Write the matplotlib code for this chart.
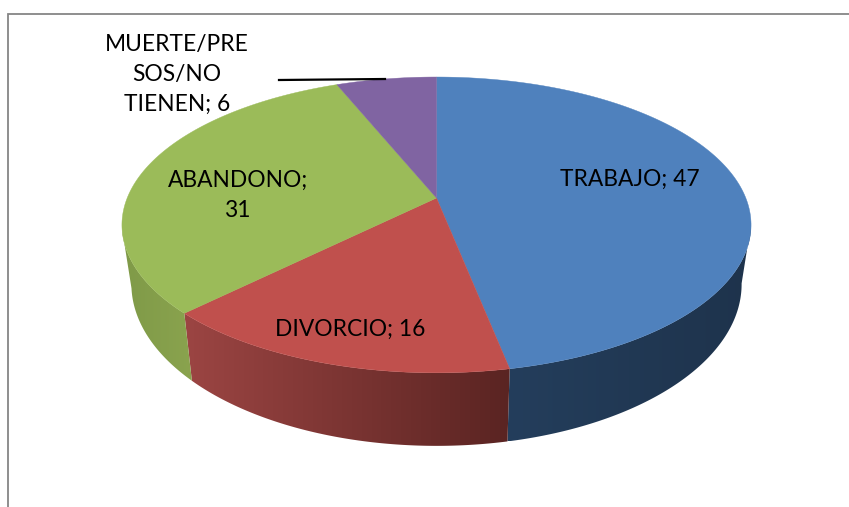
import numpy as np
import matplotlib
matplotlib.use("Agg")
import matplotlib.pyplot as plt
from matplotlib.patches import Polygon
from matplotlib.colors import to_rgb

categories = ["TRABAJO", "DIVORCIO", "ABANDONO", "MUERTE/PRE\nSOS/NO\nTIENEN"]
values = [47, 16, 31, 6]
top_colors = ["#4f81bd", "#c0504d", "#9bbb59", "#8064a2"]
# side colours, left end and right end of each wedge's wall
side_colors = [("#243e5c", "#1e334c"), ("#9c4543", "#5a2422"), ("#7f9a48", "#8aa34e"), ("#64507f", "#64507f")]
label_pos = [(630, 179), (350, 329), (238, 195), (177, 74.5)]

plt.rcParams["font.family"] = ["Lato", "DejaVu Sans"]

# pie projection, in pixels
CX, CY = 436.5, 198.0
PERSP = 0.182
RX, RY = 309.3, 143.0
# small angle correction for the 3d view
WARP_AT = np.radians([0, 169, 227, 338, 360])
WARP_BY = [0, 0.007, 0.026, 0.009, 0]


def top_xy(theta):
    # theta is clockwise from 12 o'clock
    t = theta - np.interp(theta, WARP_AT, WARP_BY)
    u, v = np.sin(t), np.cos(t)
    w = 1 + PERSP * v
    return CX + RX * u / w, CY - RY * v / w


def bottom_xy(theta):
    x, y = top_xy(theta)
    return CX + 0.97 * (x - CX), 1.094 * y + 38


fig = plt.figure(figsize=(8.49, 5.07), dpi=100)
ax = fig.add_axes([0, 0, 1, 1])

# chart frame, only top and left fall inside the crop
ax.plot([8, 8, 849], [507, 13.5, 13.5], color="#868686", lw=1.3, solid_joinstyle="miter")

edges = np.cumsum([0] + values) / sum(values) * 2 * np.pi

# walls first, gradient image clipped to each wall outline
for i in range(len(values)):
    th = np.linspace(edges[i], edges[i + 1], 400)
    th = th[np.cos(th) < -PERSP]  # stop where the rim is widest
    if len(th) < 2:
        continue
    xt, yt = top_xy(th)
    xb, yb = bottom_xy(th)
    outline = np.c_[np.r_[xt, xb[::-1]], np.r_[yt, yb[::-1]]]
    left, right = np.array(to_rgb(side_colors[i][0])), np.array(to_rgb(side_colors[i][1]))
    grad = np.linspace(0, 1, 256)[None, :, None]
    img = left + (right - left) * grad
    x0, x1 = outline[:, 0].min(), outline[:, 0].max()
    y0, y1 = outline[:, 1].min(), outline[:, 1].max()
    im = ax.imshow(img, extent=[x0, x1, y1, y0], aspect="auto", interpolation="bilinear", zorder=1)
    clip = Polygon(outline, closed=True, transform=ax.transData)
    im.set_clip_path(clip)

# top faces
for i in range(len(values)):
    th = np.linspace(edges[i], edges[i + 1], 200)
    x, y = top_xy(th)
    ax.fill(np.r_[CX, x], np.r_[CY, y], color=top_colors[i], lw=0.3, zorder=2)

ax.plot([279, 385], [80, 79], color="black", lw=1.6, zorder=3)

for name, val, (lx, ly) in zip(categories, values, label_pos):
    text = f"{name}; {val}"
    if name == "ABANDONO":
        text = f"{name};\n{val}"
    ax.text(lx, ly, text, ha="center", va="center", fontsize=16.4, color="black", linespacing=1.54, zorder=4)

ax.set_xlim(0, 849)
ax.set_ylim(507, 0)
ax.axis("off")

fig.savefig("out.png", dpi=100)
